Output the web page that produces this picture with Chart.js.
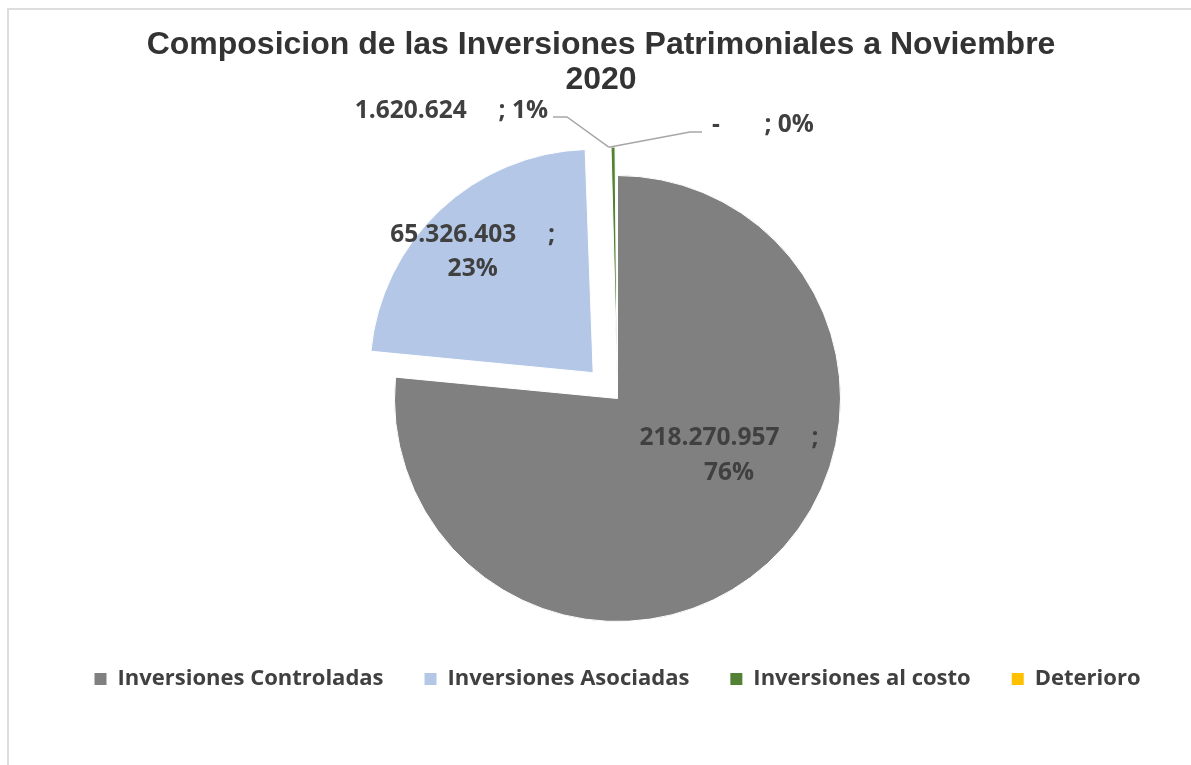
<!DOCTYPE html>
<html>
<head>
<meta charset="utf-8">
<script src="https://cdn.jsdelivr.net/npm/chart.js@4/dist/chart.umd.min.js"></script>
<style>
  html, body { margin: 0; padding: 0; background: #ffffff; overflow: hidden; }
  #wrap { position: absolute; left: 0; top: 0; width: 1191px; height: 765px; }
  #frame { position: absolute; left: 7px; top: 8px; width: 1300px; height: 900px;
           border-left: 2px solid #dddddd; border-top: 2px solid #dddddd; box-sizing: border-box; }
  canvas { position: absolute; left: 0; top: 0; }
</style>
</head>
<body>
<div id="wrap">
  <div id="frame"></div>
  <canvas id="c" width="1191" height="765"></canvas>
</div>
<script>
// ---- data ----
const titleLines = ['Composicion de las Inversiones Patrimoniales a Noviembre', '2020'];
const categories = ['Inversiones Controladas', 'Inversiones Asociadas', 'Inversiones al costo', 'Deterioro'];
const values = [218270957, 65326403, 1620624, 0];
const valueLabels = ['218.270.957', '65.326.403', '1.620.624', '-'];
const percentLabels = ['76%', '23%', '1%', '0%'];

// ---- styles ----
const sliceColors = ['#808080', '#b4c7e7', '#548235', '#ffc000'];
const sliceOffsets = [0, 142, 58, 0];
const labelFont = '"Open Sans", "DejaVu Sans", sans-serif';
const labelColor = '#404040';

const sliceLabels = {
  id: 'sliceLabels',
  afterDatasetsDraw(chart, args, opts) {
    const meta = chart.getDatasetMeta(0);
    const ctx = chart.ctx;
    const size = opts.size;
    const geom = (i) => {
      const arc = meta.data[i];
      const p = arc.getProps(['x', 'y', 'startAngle', 'endAngle', 'outerRadius'], true);
      const off = (arc.options.offset || 0) / 4;
      const mid = (p.startAngle + p.endAngle) / 2;
      const circ = p.endAngle - p.startAngle;
      const fix = 1 - Math.sin(Math.min(Math.PI, circ || 0));
      const ox = p.x + Math.cos(mid) * off;
      const oy = p.y + Math.sin(mid) * off;
      const r = p.outerRadius + off * fix;
      return { cx: p.x, cy: p.y, ox, oy, r, start: p.startAngle, end: p.endAngle };
    };
    ctx.save();
    ctx.font = 'bold ' + size + 'px ' + labelFont;
    ctx.fillStyle = labelColor;
    ctx.textBaseline = 'alphabetic';
    const base = 0.36 * size;
    opts.items.forEach(item => {
      const i = item.index;
      const g = geom(i);
      const gap = ' '.repeat(item.gap);
      if (item.mode === 'inside') {
        ctx.textAlign = 'center';
        const x = g.ox + item.dx;
        ctx.fillText(valueLabels[i] + gap + ';', x, g.oy + item.dy + base);
        ctx.fillText(percentLabels[i], x, g.oy + item.dy + item.lineGap + base);
      } else {
        const a = geom(item.anchorIndex);
        const ax = a.ox + Math.cos(a.start) * a.r;
        const ay = a.oy + Math.sin(a.start) * a.r;
        ctx.strokeStyle = '#a6a6a6';
        ctx.lineWidth = 1.4;
        ctx.beginPath();
        ctx.moveTo(ax, ay);
        ctx.lineTo(g.cx + item.elbow[0], g.cy + item.elbow[1]);
        ctx.lineTo(g.cx + item.lineEnd[0], g.cy + item.lineEnd[1]);
        ctx.stroke();
        ctx.textAlign = item.align;
        ctx.fillText(valueLabels[i] + gap + '; ' + percentLabels[i], g.cx + item.dx, g.cy + item.dy + base);
      }
    });
    ctx.restore();
  }
};

const titleNudge = {
  id: 'titleNudge',
  afterLayout(chart, args, opts) {
    if (chart.titleBlock) {
      chart.titleBlock.left += opts.dx;
      chart.titleBlock.right += opts.dx;
    }
  }
};

new Chart(document.getElementById('c'), {
  type: 'pie',
  data: {
    labels: categories,
    datasets: [{
      data: values,
      backgroundColor: sliceColors,
      borderColor: '#ffffff',
      borderWidth: 1,
      offset: sliceOffsets,
      radius: 223,
      clip: false
    }]
  },
  plugins: [sliceLabels, titleNudge],
  options: {
    responsive: false,
    animation: false,
    devicePixelRatio: 1,
    rotation: 0,
    layout: { padding: { left: 44, right: 0, top: 0, bottom: 65 } },
    plugins: {
      tooltip: { enabled: false },
      title: {
        display: true,
        text: titleLines,
        color: '#333333',
        font: { family: '"Liberation Sans", Arial, sans-serif', size: 32, weight: 'bold', lineHeight: 1.11 },
        padding: { top: 27, bottom: 72 }
      },
      legend: {
        display: true,
        position: 'bottom',
        labels: {
          color: labelColor,
          boxWidth: 12,
          boxHeight: 12,
          padding: 41,
          font: { family: labelFont, size: 22, weight: 'bold' },
          generateLabels(chart) {
            const items = Chart.overrides.pie.plugins.legend.labels.generateLabels(chart);
            items.forEach(it => { it.lineWidth = 0; it.strokeStyle = 'rgba(0,0,0,0)'; });
            return items;
          }
        }
      },
      titleNudge: { dx: -16.5 },
      sliceLabels: {
        size: 24.5,
        items: [
          { index: 0, mode: 'inside', dx: 111.5, dy: 38, lineGap: 34.5, gap: 5 },
          { index: 1, mode: 'inside', dx: -120.5, dy: -139.5, lineGap: 34.5, gap: 5 },
          { index: 2, mode: 'outside', anchorIndex: 2, align: 'right', dx: -69.5, dy: -289,
            elbow: [-50.5, -281.5], lineEnd: [-64.5, -281.5], gap: 5 },
          { index: 3, mode: 'outside', anchorIndex: 2, align: 'left', dx: 94.5, dy: -275,
            elbow: [72.5, -266.5], lineEnd: [84.5, -266.5], gap: 7 }
        ]
      }
    }
  }
});
</script>
</body>
</html>
